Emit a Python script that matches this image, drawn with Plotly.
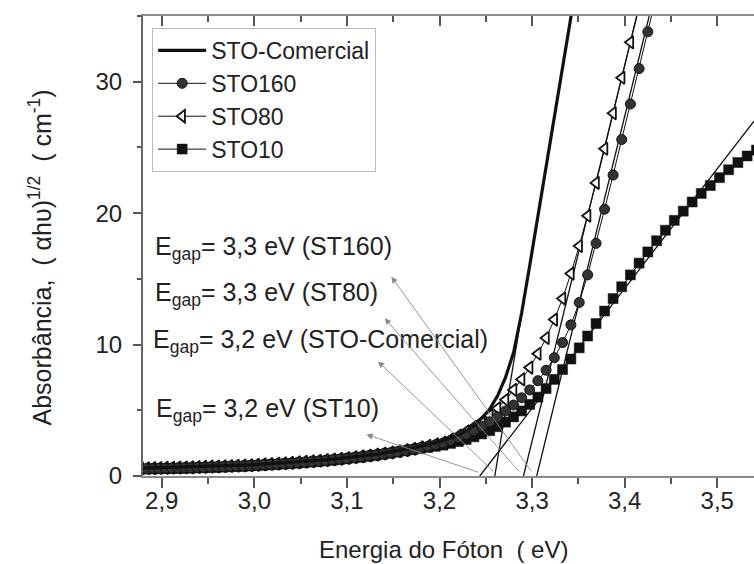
import plotly.graph_objects as go

# Photon energy (eV)
energy = [2.8767, 2.8834, 2.8901, 2.8968, 2.9036, 2.9104, 2.9173, 2.9242, 2.9311, 2.9380,
          2.9450, 2.9520, 2.9590, 2.9661, 2.9732, 2.9804, 2.9876, 2.9948, 3.0020, 3.0093,
          3.0166, 3.0240, 3.0314, 3.0388, 3.0463, 3.0538, 3.0614, 3.0689, 3.0766, 3.0842,
          3.0919, 3.0996, 3.1074, 3.1152, 3.1230, 3.1309, 3.1388, 3.1468, 3.1548, 3.1629,
          3.1710, 3.1791, 3.1873, 3.1955, 3.2037, 3.2120, 3.2204, 3.2288, 3.2372, 3.2456,
          3.2542, 3.2627, 3.2713, 3.2800, 3.2887, 3.2974, 3.3062, 3.3151, 3.3240, 3.3329,
          3.3419, 3.3509, 3.3600, 3.3691, 3.3783, 3.3875, 3.3968, 3.4062, 3.4156, 3.4250,
          3.4345, 3.4440, 3.4536, 3.4633, 3.4729, 3.4827, 3.4925, 3.5024, 3.5123, 3.5223,
          3.5323, 3.5424]

sto_comercial = [0.60, 0.61, 0.62, 0.63, 0.64, 0.65, 0.66, 0.67, 0.68, 0.70,
                 0.71, 0.73, 0.74, 0.76, 0.78, 0.80, 0.82, 0.84, 0.87, 0.90,
                 0.93, 0.96, 0.99, 1.02, 1.06, 1.10, 1.14, 1.18, 1.23, 1.28,
                 1.33, 1.39, 1.45, 1.51, 1.58, 1.65, 1.73, 1.82, 1.92, 2.02,
                 2.13, 2.25, 2.38, 2.52, 2.68, 2.88, 3.12, 3.45, 3.85, 4.40,
                 5.10, 6.10, 7.50, 9.40, 12.4, 16.0, 19.8, 23.6, 27.3, 31.1,
                 34.9, 38.7]

sto160 = [0.55, 0.56, 0.57, 0.58, 0.59, 0.60, 0.61, 0.62, 0.63, 0.65,
          0.66, 0.68, 0.69, 0.71, 0.73, 0.75, 0.77, 0.79, 0.82, 0.85,
          0.88, 0.91, 0.94, 0.97, 1.01, 1.05, 1.09, 1.13, 1.18, 1.23,
          1.28, 1.34, 1.40, 1.46, 1.53, 1.60, 1.68, 1.76, 1.85, 1.94,
          2.04, 2.14, 2.25, 2.37, 2.50, 2.70, 2.92, 3.17, 3.45, 3.77,
          4.12, 4.50, 4.95, 5.40, 5.95, 6.55, 7.25, 8.05, 9.00, 10.15,
          11.5, 13.2, 15.3, 17.7, 20.3, 22.9, 25.6, 28.3, 31.0, 33.8,
          36.6]

sto80 = [0.58, 0.59, 0.60, 0.61, 0.62, 0.63, 0.64, 0.65, 0.66, 0.68,
         0.69, 0.71, 0.72, 0.74, 0.76, 0.78, 0.80, 0.82, 0.85, 0.88,
         0.91, 0.94, 0.97, 1.00, 1.04, 1.08, 1.12, 1.16, 1.21, 1.26,
         1.31, 1.37, 1.43, 1.49, 1.56, 1.63, 1.71, 1.79, 1.88, 1.97,
         2.07, 2.18, 2.29, 2.41, 2.55, 2.80, 3.08, 3.40, 3.75, 4.15,
         4.60, 5.15, 5.80, 6.55, 7.35, 8.25, 9.30, 10.5, 11.9, 13.5,
         15.4, 17.5, 19.8, 22.3, 24.9, 27.6, 30.3, 33.0, 35.8]

sto10 = [0.52, 0.53, 0.54, 0.55, 0.56, 0.57, 0.58, 0.59, 0.60, 0.62,
         0.63, 0.65, 0.66, 0.68, 0.70, 0.72, 0.74, 0.76, 0.79, 0.82,
         0.85, 0.88, 0.91, 0.94, 0.98, 1.02, 1.06, 1.10, 1.15, 1.20,
         1.25, 1.31, 1.37, 1.43, 1.50, 1.57, 1.65, 1.73, 1.82, 1.91,
         2.00, 2.09, 2.18, 2.26, 2.35, 2.48, 2.62, 2.78, 2.98, 3.20,
         3.45, 3.75, 4.10, 4.50, 4.95, 5.45, 6.00, 6.65, 7.35, 8.10,
         8.90, 9.75, 10.65, 11.6, 12.55, 13.5, 14.4, 15.3, 16.2, 17.05,
         17.9, 18.7, 19.45, 20.15, 20.85, 21.5, 22.1, 22.7, 23.3, 23.85,
         24.35, 24.8]

# Linear extrapolation (tangent) lines: [E at y=0, E at top], [0, y at top]
tan_comercial_x = [3.2597, 3.3422]
tan_comercial_y = [0, 35]
tan_sto160_x = [3.3050, 3.4265]
tan_sto160_y = [0, 35]
tan_sto80_x = [3.2907, 3.4132]
tan_sto80_y = [0, 35]
tan_sto10_x = [3.2435, 3.5397]
tan_sto10_y = [0, 27.0]

# Annotation labels and arrows
label_texts = ["E<sub>gap</sub>= 3,3 eV (ST160)",
               "E<sub>gap</sub>= 3,3 eV (ST80)",
               "E<sub>gap</sub>= 3,2 eV (STO-Comercial)",
               "E<sub>gap</sub>= 3,2 eV (ST10)"]
label_x = [2.8903, 2.8903, 2.8885, 2.8921]
label_y = [17.36, 13.85, 10.26, 5.05]
arrow_head_x = [3.148, 3.1408, 3.1335, 3.121]
arrow_head_y = [15.16, 12.0, 8.72, 3.16]
arrow_tail_x = [3.3004, 3.2870, 3.2597, 3.2435]
arrow_tail_y = [0.25, 0.25, 0.25, 0.25]

x_range = [2.8797, 3.5397]
y_range = [0, 35]

FONT = "Liberation Sans, Arial, sans-serif"
BLACK = "#111111"

fig = go.Figure()

# tangent lines
for tx, ty in [(tan_comercial_x, tan_comercial_y), (tan_sto160_x, tan_sto160_y),
               (tan_sto80_x, tan_sto80_y), (tan_sto10_x, tan_sto10_y)]:
    fig.add_trace(go.Scatter(x=tx, y=ty, mode="lines", showlegend=False,
                             line=dict(color=BLACK, width=1.3), hoverinfo="skip"))

fig.add_trace(go.Scatter(
    x=energy[:len(sto10)], y=sto10, name="STO10", mode="lines+markers",
    line=dict(color=BLACK, width=1),
    marker=dict(symbol="square", size=10, color=BLACK, line=dict(color=BLACK, width=0.5)),
    legendrank=4))
fig.add_trace(go.Scatter(
    x=energy[:len(sto80)], y=sto80, name="STO80", mode="lines+markers",
    line=dict(color=BLACK, width=1),
    marker=dict(symbol="triangle-left", size=11, color="white", line=dict(color=BLACK, width=1.8)),
    legendrank=3))
fig.add_trace(go.Scatter(
    x=energy[:len(sto160)], y=sto160, name="STO160", mode="lines+markers",
    line=dict(color=BLACK, width=1),
    marker=dict(symbol="circle", size=10, color="#333333", line=dict(color=BLACK, width=1)),
    legendrank=2))
fig.add_trace(go.Scatter(
    x=energy[:len(sto_comercial)], y=sto_comercial, name="STO-Comercial", mode="lines",
    line=dict(color=BLACK, width=3.2),
    legendrank=1))

# invisible trace for top axis
fig.add_trace(go.Scatter(x=x_range, y=y_range, xaxis="x2", mode="markers",
                         marker=dict(opacity=0), showlegend=False, hoverinfo="skip"))

annotations = []
for t, x, y in zip(label_texts, label_x, label_y):
    annotations.append(dict(x=x, y=y, xref="x", yref="y", text=t, showarrow=False,
                            xanchor="left", yanchor="middle",
                            font=dict(size=25, color="#222", family=FONT)))
for hx, hy, tx, ty in zip(arrow_head_x, arrow_head_y, arrow_tail_x, arrow_tail_y):
    annotations.append(dict(x=hx, y=hy, xref="x", yref="y", ax=tx, ay=ty,
                            axref="x", ayref="y", text="", showarrow=True,
                            arrowhead=2, arrowsize=1.4, arrowwidth=0.9,
                            arrowcolor="#8a8a8a"))
annotations.append(dict(x=0.491, y=-0.1587, xref="paper", yref="paper",
                        text="Energia do Fóton  ( eV)", showarrow=False,
                        xanchor="center", yanchor="middle",
                        font=dict(size=24, color="#222", family=FONT)))
annotations.append(dict(x=-0.1686, y=0.475, xref="paper", yref="paper",
                        text="Absorbância,  ( αhυ)<sup>1/2</sup>  ( cm<sup>-1</sup>)",
                        textangle=-90, showarrow=False,
                        xanchor="center", yanchor="middle",
                        font=dict(size=25, color="#222", family=FONT)))

axis_line = "#8a8a8a"
tick_col = "#555555"

fig.update_layout(
    width=754, height=564,
    margin=dict(l=143, r=0, t=16, b=88),
    paper_bgcolor="white", plot_bgcolor="white",
    separators=",.",
    font=dict(family=FONT, size=24, color="#222"),
    showlegend=True,
    legend=dict(x=0.015, y=0.974, xanchor="left", yanchor="top",
                bgcolor="white", bordercolor="#bbbbbb", borderwidth=1,
                font=dict(size=23, color="#222", family=FONT),
                itemwidth=48, tracegroupgap=0),
    xaxis=dict(range=x_range, tick0=2.9, dtick=0.1, tickformat=".1f",
               ticks="outside", ticklen=10, tickwidth=1.5, tickcolor=tick_col,
               showline=True, linecolor=axis_line, linewidth=2,
               showgrid=False, zeroline=False, ticklabelstandoff=-8,
               tickfont=dict(size=24, color="#222"),
               minor=dict(dtick=0.05, tick0=2.9, ticks="outside", ticklen=6,
                          tickwidth=1.5, tickcolor=tick_col, showgrid=False)),
    xaxis2=dict(range=x_range, overlaying="x", side="top", anchor="y",
                tick0=2.9, dtick=0.1, ticks="inside", ticklen=10, tickwidth=1.5,
                tickcolor=tick_col, showticklabels=False,
                showline=True, linecolor=axis_line, linewidth=2,
                showgrid=False, zeroline=False,
                minor=dict(dtick=0.05, tick0=2.9, ticks="inside", ticklen=6,
                           tickwidth=1.5, tickcolor=tick_col, showgrid=False)),
    yaxis=dict(range=y_range, tick0=0, dtick=10, ticks="outside", ticklen=8,
               tickwidth=1.5, tickcolor=tick_col, ticklabelstandoff=6,
               showline=True, linecolor="#666666", linewidth=2,
               showgrid=False, zeroline=False,
               tickfont=dict(size=24, color="#222"),
               minor=dict(dtick=5, ticks="outside", ticklen=4, tickwidth=1.5,
                          tickcolor=tick_col, showgrid=False)),
    annotations=annotations,
)

fig.write_html("out.html")
